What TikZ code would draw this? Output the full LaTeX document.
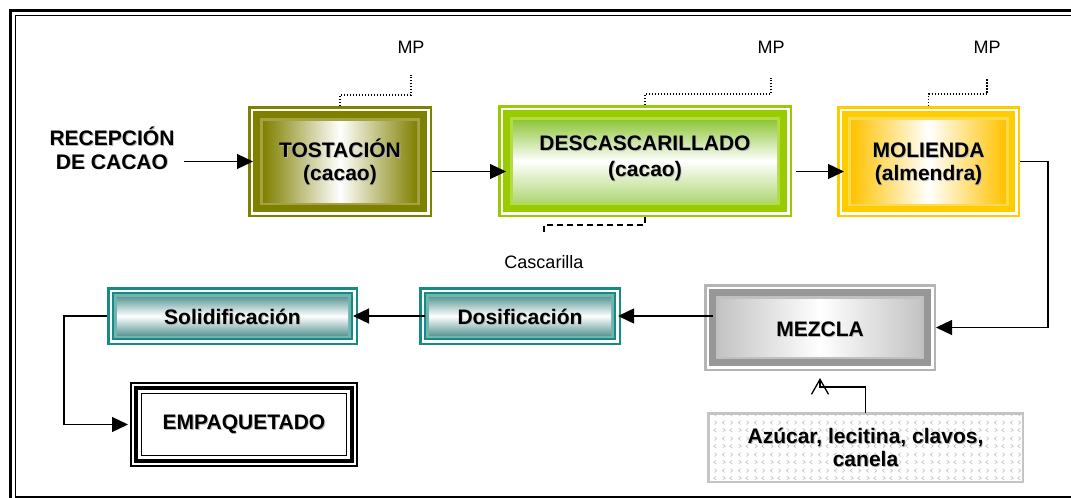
\documentclass[tikz,border=0pt]{standalone}
\usepackage{fontspec}
\setmainfont{Liberation Sans}
\usetikzlibrary{arrows.meta,patterns,calc}

% frame and fill colours of the process boxes
\definecolor{olivef}{HTML}{808000}
\definecolor{olivel}{HTML}{A3A345}
\definecolor{greenf}{HTML}{99CC00}
\definecolor{greenl}{HTML}{B5DA45}
\definecolor{greens}{HTML}{8EC63A}
\definecolor{goldf}{HTML}{FFCC00}
\definecolor{goldl}{HTML}{FFDB50}
\definecolor{golds}{HTML}{FFC200}
\definecolor{tealf}{HTML}{168A84}
\definecolor{teall}{HTML}{72B4AF}
\definecolor{teals}{HTML}{5F9A98}
\definecolor{grayo}{HTML}{B4B4B4}
\definecolor{grayf}{HTML}{979797}
\definecolor{grayl}{HTML}{C0C0C0}
\definecolor{grays}{HTML}{C4C4C4}
\definecolor{patgray}{HTML}{C4C4C4}

% small chevrons used to texture the additives box
\pgfdeclarepatternformonly{chevrons}{\pgfqpoint{0pt}{0pt}}{\pgfqpoint{16pt}{16pt}}{\pgfqpoint{16pt}{16pt}}{%
  \pgfsetlinewidth{0.7pt}%
  \pgfpathmoveto{\pgfqpoint{3pt}{6pt}}\pgfpathlineto{\pgfqpoint{5.5pt}{4pt}}\pgfpathlineto{\pgfqpoint{3pt}{2pt}}%
  \pgfpathmoveto{\pgfqpoint{13pt}{6pt}}\pgfpathlineto{\pgfqpoint{10.5pt}{4pt}}\pgfpathlineto{\pgfqpoint{13pt}{2pt}}%
  \pgfpathmoveto{\pgfqpoint{5pt}{14pt}}\pgfpathlineto{\pgfqpoint{2.5pt}{12pt}}\pgfpathlineto{\pgfqpoint{5pt}{10pt}}%
  \pgfpathmoveto{\pgfqpoint{11pt}{14pt}}\pgfpathlineto{\pgfqpoint{13.5pt}{12pt}}\pgfpathlineto{\pgfqpoint{11pt}{10pt}}%
  \pgfusepath{stroke}%
}

% text with a soft grey drop shadow
\newcommand\shd[1]{\leavevmode\rlap{\hspace{0.9pt}\raisebox{-0.9pt}{\color{black!28}#1}}#1}
\newcommand\topstrut{\rule{0pt}{20pt}}
\newcommand\botstrut[1]{\rule[-#1pt]{0pt}{#1pt}}
\newcommand\onestrut{\rule{0pt}{19pt}}

\tikzset{
  inset/.style={insert path={([shift={(#1pt,#1pt)}]path picture bounding box.south west)
      rectangle ([shift={(-#1pt,-#1pt)}]path picture bounding box.north east)}},
  lbl/.style={font=\fontsize{21}{23.3}\selectfont\bfseries, align=center},
  small/.style={font=\fontsize{18}{20}\selectfont, inner sep=0pt},
  % #1 outer line, #2 band, #3 light line, #4 shading, #5 shading inset, #6 light line inset
  fancy/.style n args={6}{
    lbl, fill=white, inner sep=0pt, outer sep=0pt,
    path picture={
      \fill[#2] (path picture bounding box.south west) rectangle (path picture bounding box.north east);
      \draw[#1, line width=2.5pt, inset=1.25];
      \draw[white, line width=2.6pt, inset=3.8];
      \draw[#3, line width=3pt, inset=#6];
      \shade[#4, inset=#5];
    }
  },
  packbox/.style={
    lbl, fill=white, inner sep=0pt, outer sep=0pt,
    path picture={
      \draw[black, line width=2pt, inset=1];
      \draw[black, line width=4pt, inset=6.2];
      \draw[black, line width=1.6pt, inset=11.6];
    }
  },
  arr/.style={line width=1.3pt, -{Triangle[length=16pt,width=15pt]}},
  dotln/.style={line width=1.3pt, dash pattern=on 1.3pt off 1.7pt},
  dashln/.style={line width=1.3pt, dash pattern=on 6pt off 4pt},
}

\begin{document}
\begin{tikzpicture}[x=1pt,y=-1pt]
\useasboundingbox (0,0) rectangle (1071,498);

% page frame
\draw[line width=3pt] (10.8,520) -- (10.8,10.8) -- (1090,10.8);
\draw[line width=1.5pt] (1090,15.5) -- (15.3,15.5) -- (15.3,497) -- (1090,497);

% upper row
\node[lbl, inner sep=0pt] (recep) at (112,149.9)
  {\topstrut\shd{RECEPCIÓN}\\\shd{DE CACAO}\botstrut{5}};
\node[fancy={olivef}{olivef}{olivel}{left color=olivef,right color=olivef,middle color=white}{15}{13.5},
  minimum width=184pt, minimum height=111pt] (tos) at (340,161.5)
  {\topstrut\shd{TOSTACIÓN}\\\shd{(cacao)}\botstrut{5}};
\node[fancy={greenf}{greenf}{greenl}{top color=greens,bottom color=greens!70,middle color=white}{15}{13.5},
  minimum width=294pt, minimum height=112pt] (desc) at (645,161)
  {\topstrut\shd{DESCASCARILLADO}\\[3.4pt]\shd{(cacao)}\botstrut{15}};
\node[fancy={goldf}{goldf}{goldl}{left color=golds,right color=golds,middle color=white}{14}{12.5},
  minimum width=183pt, minimum height=111pt] (mol) at (928.5,161.5)
  {\topstrut\shd{MOLIENDA}\\\shd{(almendra)}\botstrut{5}};

% raw-material labels
\node[small] (mp1) at (411,47.5) {MP};
\node[small] (mp2) at (771,47.5) {MP};
\node[small] (mp3) at (987,47.5) {MP};
\node[small] (casc) at (544,262) {Cascarilla};

% lower row
\node[fancy={grayo}{grayf}{grayl}{left color=grays,right color=grays,middle color=white}{15}{13.5},
  minimum width=232pt, minimum height=87pt] (mez) at (820,327.5) {\onestrut\shd{MEZCLA}};
\node[fancy={tealf}{tealf}{teall}{top color=teals,bottom color=teals,middle color=white}{10}{8.5},
  minimum width=202pt, minimum height=58pt] (dos) at (520,316) {\onestrut\shd{Dosificación}};
\node[fancy={tealf}{tealf}{teall}{top color=teals,bottom color=teals,middle color=white}{10}{8.5},
  minimum width=251pt, minimum height=58pt] (sol) at (232.5,316) {\onestrut\shd{Solidificación}};
\node[packbox, minimum width=228pt, minimum height=85pt] (emp) at (244,424.5) {\shd{EMPAQUETADO}};
\node[lbl, draw=patgray, line width=2.5pt, pattern=chevrons, pattern color=patgray,
  inner sep=0pt, outer sep=0pt, minimum width=314.5pt, minimum height=68.5pt] (az) at (865.5,447.5)
  {\topstrut\shd{Azúcar, lecitina, clavos,}\\\shd{canela}\botstrut{5}};

% flow connectors
\draw[arr, shorten >=-5pt] ([xshift=9.5pt]recep.east |- tos.west) -- (tos.west);
\draw[arr, shorten >=-8pt] ([yshift=-10pt]tos.east) -- ([yshift=-10pt]tos.east -| desc.west);
\draw[arr, shorten >=-7pt] ([xshift=4pt,yshift=-10.5pt]desc.east) -- ([yshift=-10.5pt]desc.east -| mol.west);
\draw[arr] (mol.east) -- ++(28,0) |- (mez.east);
\draw[arr, shorten >=-3pt] ([xshift=9pt]mez.west |- dos.east) -- (dos.east);
\draw[arr, shorten >=-5pt] ([xshift=6pt]dos.west) -- (sol.east);
\draw[arr, shorten >=2pt] (sol.west) -- ++(-43,0) |- (emp.west);
\draw[line width=1.3pt, -{Straight Barb[length=15pt,width=17pt]}]
  (az.north) |- ($(mez.south)+(0,16)$) -- ++(0,-9);

% raw-material feeds and by-product
\draw[dotln] (tos.north) -- ++(0,-11) -| ([yshift=-21pt]mp1.south);
\draw[dotln] (desc.north) -- ++(0,-11) -| ([yshift=-24pt]mp2.south);
\draw[dotln] (mol.north) -- ++(0,-12) -| ([yshift=-24pt]mp3.south);
\draw[dashln] (desc.south) -- ++(0,8) -| ([yshift=21pt]casc.north);
\end{tikzpicture}
\end{document}
